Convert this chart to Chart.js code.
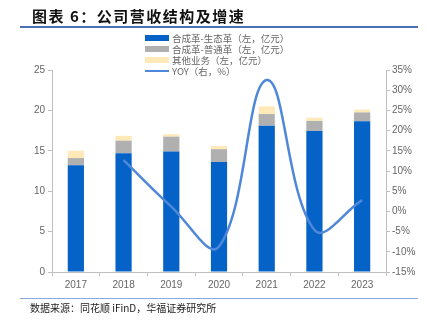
<!DOCTYPE html>
<html>
<head>
<meta charset="utf-8">
<script src="https://cdn.jsdelivr.net/npm/chart.js@4.4.1/dist/chart.umd.min.js"></script>
<style>
  html, body { margin: 0; padding: 0; background: #fff; }
  #wrap { position: relative; width: 428px; height: 330px; overflow: hidden; }
  #title {
    position: absolute; left: 32px; top: 5px;
    font-family: "Noto Sans CJK SC", sans-serif; font-weight: 700;
    font-size: 15px; color: #111; letter-spacing: 1.5px; white-space: nowrap;
  }
  #titleLine { position: absolute; left: 20px; top: 26px; width: 398px; height: 2px; background: #4a70b8; }
  #sourceLine { position: absolute; left: 20px; top: 298px; width: 398px; height: 1px; background: #8eaadb; }
  #source {
    position: absolute; left: 30px; top: 300px;
    font-family: "Noto Sans CJK SC", sans-serif; font-size: 10px; color: #222; white-space: nowrap;
  }
  #legend { position: absolute; left: 145px; top: 32px; }
  .item { height: 11.2px; display: flex; align-items: center; }
  .item span {
    font-family: "Noto Sans CJK SC", sans-serif; font-size: 9.5px; color: #666;
    margin-left: 3px; white-space: nowrap; line-height: 10px;
  }
  canvas { position: absolute; left: 0; top: 0; }
</style>
</head>
<body>
<div id="wrap">
  <canvas id="chart" width="428" height="330"></canvas>
  <div id="title">图表 6：公司营收结构及增速</div>
  <div id="titleLine"></div>
  <div id="legend"></div>
  <div id="sourceLine"></div>
  <div id="source">数据来源：同花顺 iFinD，华福证券研究所</div>
</div>
<script>
// DATA
const years = ["2017", "2018", "2019", "2020", "2021", "2022", "2023"];
const ecoLeather = [13.2, 14.7, 14.9, 13.6, 18.1, 17.45, 18.65];
const normalLeather = [0.9, 1.55, 1.85, 1.6, 1.45, 1.25, 1.1];
const otherBusiness = [0.9, 0.6, 0.3, 0.4, 0.95, 0.4, 0.35];
const yoyGrowth = [null, 12.7, 1.2, -8.7, 32.5, -4.6, 2.8];
const seriesNames = ["合成革-生态革（左，亿元）", "合成革-普通革（左，亿元）", "其他业务（左，亿元）", "YOY（右，%）"];

const tickFont = { family: "Liberation Sans", size: 10 };
const tickColor = "#666666";
const axisColor = "#bfbfbf";

var data = {
  labels: years,
  datasets: [
    {
      type: "line",
      label: seriesNames[3],
      data: yoyGrowth,
      yAxisID: "y1",
      borderColor: "#4f88da",
      backgroundColor: "#4f88da",
      borderWidth: 2.5,
      pointRadius: 0,
      tension: 0.4,
      fill: false,
      order: 0,
    },
    {
      label: seriesNames[0],
      data: ecoLeather,
      backgroundColor: "#0563c8",
      yAxisID: "y",
      order: 1,
    },
    {
      label: seriesNames[1],
      data: normalLeather,
      backgroundColor: "#b0b0b0",
      yAxisID: "y",
      order: 1,
    },
    {
      label: seriesNames[2],
      data: otherBusiness,
      backgroundColor: "#ffe9b8",
      yAxisID: "y",
      order: 1,
    },
  ],
};

const config = {
  type: "bar",
  data,
  options: {
    responsive: false,
    animation: false,
    layout: { padding: { top: 70, bottom: 34, left: 0, right: 0 } },
    datasets: { bar: { categoryPercentage: 1, barPercentage: 0.34 } },
    plugins: {
      legend: { display: false },
      tooltip: { enabled: false },
    },
    scales: {
      x: {
        stacked: true,
        afterFit: (scale) => { scale.height = 24; },
        ticks: { color: tickColor, font: tickFont, padding: 3 },
        grid: { drawOnChartArea: false, tickLength: 4, color: axisColor, offset: true },
        border: { color: axisColor },
      },
      y: {
        stacked: true,
        position: "left",
        min: 0,
        max: 25,
        afterFit: (scale) => { scale.width = 52; },
        ticks: { stepSize: 5, color: tickColor, font: tickFont, padding: 3 },
        grid: { drawOnChartArea: false, tickLength: 4, color: axisColor },
        border: { color: axisColor },
      },
      y1: {
        position: "right",
        min: -15,
        max: 35,
        afterFit: (scale) => { scale.width = 42; },
        ticks: {
          stepSize: 5, color: tickColor, font: tickFont, padding: 2,
          callback: (v) => v + "%",
        },
        grid: { drawOnChartArea: false, tickLength: 4, color: axisColor },
        border: { color: axisColor },
      },
    },
  },
};

const myChart = new Chart(document.getElementById("chart"), config);

// HTML LEGEND, BAR SERIES FIRST THEN THE LINE
const legendOrder = [1, 2, 3, 0];
const legendEl = document.getElementById("legend");
legendOrder.forEach((i) => {
  const ds = myChart.data.datasets[i];
  const row = document.createElement("div");
  row.className = "item";
  const mark = document.createElement("div");
  if (ds.type == "line") {
    mark.style.cssText = "width:24px;height:2.5px;background:" + ds.borderColor;
  } else {
    mark.style.cssText = "width:24px;height:6px;background:" + ds.backgroundColor;
  }
  const txt = document.createElement("span");
  txt.textContent = ds.label;
  row.appendChild(mark);
  row.appendChild(txt);
  legendEl.appendChild(row);
});
</script>
</body>
</html>
